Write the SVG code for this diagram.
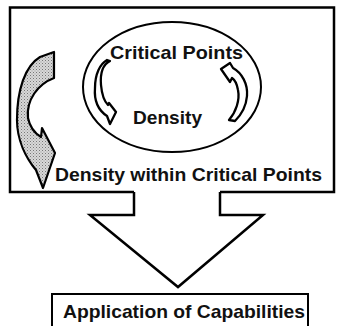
<svg xmlns="http://www.w3.org/2000/svg" width="337" height="326" viewBox="0 0 337 326">
<defs>
<pattern id="dots" width="3" height="3" patternUnits="userSpaceOnUse">
<rect width="3" height="3" fill="#d8d8d8"/>
<rect x="0" y="0" width="1" height="1" fill="#777"/>
<rect x="1.5" y="1.5" width="1" height="1" fill="#999"/>
</pattern>
</defs>
<style>
.ln{fill:none;stroke:#000;stroke-width:2.5;stroke-linejoin:miter}
.sh{fill:#fff;stroke:#000;stroke-width:2.3;stroke-linejoin:round}
.t{font-family:"Liberation Sans",Arial,sans-serif;font-weight:bold;fill:#111}
</style>
<rect width="337" height="326" fill="#fff"/>
<g id="frame">
<path class="ln" stroke-width="3" d="M134,192 L10,192 L10,7.5 L334,7.5 L334,192 L220,192"/>
</g>
<g id="ellipse-node">
<ellipse cx="172" cy="87" rx="89" ry="65" fill="none" stroke="#000" stroke-width="2"/>
<text class="t" x="110" y="59" font-size="18.5" textLength="133" lengthAdjust="spacingAndGlyphs">Critical Points</text>
<text class="t" x="133" y="124" font-size="18.5" textLength="69" lengthAdjust="spacingAndGlyphs">Density</text>
</g>
<g id="connectors">
<path id="big-arrow" d="M40,57 L54,52 L54,78 C38,84 26,100 28,118 C30,128 36,134 41,137 L42,128 L55,153 L43,188 L36,170 C26,158 17,140 17,120 C17,90 25,66 40,57 Z" fill="url(#dots)" stroke="#000" stroke-width="2.2" stroke-linejoin="round"/>
<path id="left-arrow" class="sh" d="M110,61 C102,65 100,73 101,85 C102,96 104,101 108,105 L109,103 L116,112 L110,124 L107,116 C98,110 94,100 95,88 C95,74 100,64 107,60 Z"/>
<path id="right-arrow" class="sh" d="M229,120 C236,112 240,100 238,90 C237,84 235,80 232,78 L230,82 L221,69 L230,63 L233,68 C242,73 248,84 247,96 C246,108 240,116 235,121 Z"/>
<path id="down-arrow" class="ln" d="M134,192 L134,215 L90,215 L178,287 L263,215 L220,215 L220,192"/>
</g>
<g id="result-node">
<text class="t" x="55" y="181" font-size="18.5" textLength="267" lengthAdjust="spacingAndGlyphs">Density within Critical Points</text>
</g>
<g id="application-node">
<rect x="52" y="294" width="256" height="50" fill="none" stroke="#000" stroke-width="2"/>
<text class="t" x="63" y="318" font-size="18.5" textLength="242" lengthAdjust="spacingAndGlyphs">Application of Capabilities</text>
</g>
</svg>
